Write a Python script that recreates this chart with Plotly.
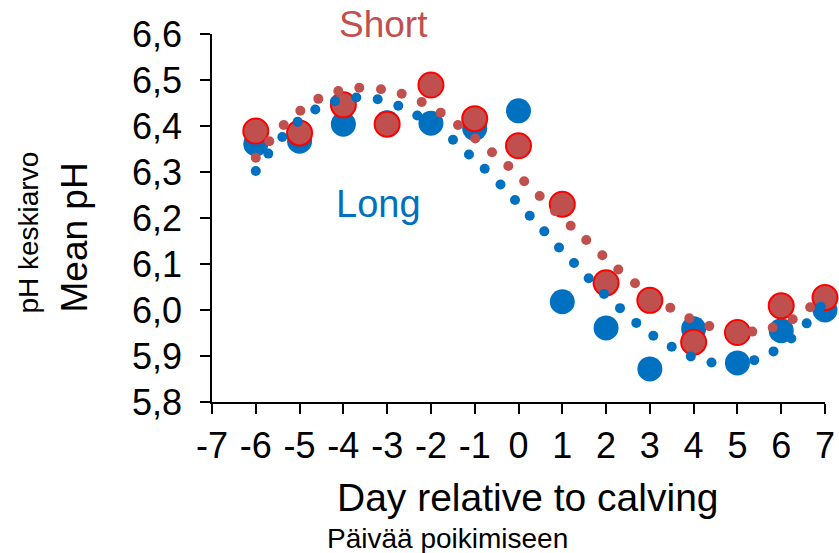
import plotly.graph_objects as go

# Daily mean rumen pH around calving, two groups
days = [-6, -5, -4, -3, -2, -1, 0, 1, 2, 3, 4, 5, 6, 7]
long_ph = [6.361, 6.367, 6.404, 6.407, 6.406, 6.395, 6.433,
           6.018, 5.961, 5.872, 5.959, 5.885, 5.955, 6.000]
short_ph = [6.389, 6.385, 6.446, 6.404, 6.489, 6.416, 6.357,
            6.230, 6.059, 6.021, 5.930, 5.951, 6.009, 6.027]

# Dotted trend curves (one dot per position along each curve)
long_curve_day = [-6.00, -5.714, -5.394, -5.043, -4.641, -4.191, -3.704, -3.216,
                  -2.745, -2.311, -1.907, -1.496, -1.131, -0.772, -0.411, -0.080,
                  0.256, 0.589, 0.925, 1.268, 1.603, 1.953, 2.318, 2.690, 3.079,
                  3.499, 3.935, 4.408, 4.887, 5.383, 5.824, 6.230, 6.582, 6.902]
long_curve_ph = [6.302, 6.340, 6.376, 6.409, 6.436, 6.454, 6.462, 6.458,
                 6.444, 6.423, 6.398, 6.370, 6.338, 6.307, 6.273, 6.239,
                 6.205, 6.171, 6.136, 6.102, 6.069, 6.035, 6.004, 5.972, 5.944,
                 5.920, 5.899, 5.886, 5.883, 5.891, 5.910, 5.938, 5.971, 6.007]
short_curve_day = [-6.00, -5.691, -5.362, -4.983, -4.572, -4.115, -3.636, -3.140,
                   -2.668, -2.211, -1.777, -1.382, -0.987, -0.605, -0.233, 0.130,
                   0.484, 0.834, 1.192, 1.548, 1.914, 2.279, 2.661, 3.060, 3.467,
                   3.901, 4.358, 4.846, 5.340, 5.806, 6.262, 6.662, 7.0]
short_curve_ph = [6.331, 6.367, 6.402, 6.433, 6.459, 6.476, 6.483, 6.480,
                  6.470, 6.452, 6.429, 6.402, 6.373, 6.343, 6.313, 6.280,
                  6.248, 6.215, 6.183, 6.152, 6.119, 6.088, 6.058, 6.029, 6.005,
                  5.982, 5.965, 5.955, 5.953, 5.962, 5.980, 6.006, 6.037]

x_ticks = [-7, -6, -5, -4, -3, -2, -1, 0, 1, 2, 3, 4, 5, 6, 7]
x_tick_labels = ["-7", "-6", "-5", "-4", "-3", "-2", "-1", "0",
                 "1", "2", "3", "4", "5", "6", "7"]
y_ticks = [5.8, 5.9, 6.0, 6.1, 6.2, 6.3, 6.4, 6.5, 6.6]
y_tick_labels = ["5,8", "5,9", "6,0", "6,1", "6,2", "6,3", "6,4", "6,5", "6,6"]

BLUE = "#0070C0"
RED_FILL = "#C0504D"
RED_EDGE = "#FF0000"
FONT = "Liberation Sans, Arial, sans-serif"

fig = go.Figure()

fig.add_trace(go.Scatter(
    x=days, y=long_ph, mode="markers", cliponaxis=False,
    marker=dict(size=25, color=BLUE, line=dict(width=0)),
))
fig.add_trace(go.Scatter(
    x=days, y=short_ph, mode="markers", cliponaxis=False,
    marker=dict(size=25, color=RED_FILL, line=dict(width=2, color=RED_EDGE)),
))
fig.add_trace(go.Scatter(
    x=short_curve_day, y=short_curve_ph, mode="markers", cliponaxis=False,
    marker=dict(size=10, color=RED_FILL, line=dict(width=0)),
))
fig.add_trace(go.Scatter(
    x=long_curve_day, y=long_curve_ph, mode="markers", cliponaxis=False,
    marker=dict(size=10, color=BLUE, line=dict(width=0)),
))

axis_common = dict(
    showgrid=False, zeroline=False, showline=True, linecolor="black",
    linewidth=1.5, ticks="outside", ticklen=10, tickwidth=1.5,
    tickcolor="black", tickfont=dict(family=FONT, size=36, color="black"),
    automargin=False,
)

fig.update_xaxes(range=[-7, 7], tickvals=x_ticks, ticktext=x_tick_labels,
                 ticklabelstandoff=1, **axis_common)
fig.update_yaxes(range=[5.8, 6.6], tickvals=y_ticks, ticktext=y_tick_labels,
                 ticklabelstandoff=11, **axis_common)

annotations = [
    dict(text="Short", x=0.2799, y=1.027, xref="paper", yref="paper",
         font=dict(family=FONT, size=37, color=RED_FILL)),
    dict(text="Long", x=-3.19, y=6.230, xref="x", yref="y",
         font=dict(family=FONT, size=38, color=BLUE)),
    dict(text="Day relative to calving", x=0.5155, y=-0.2595,
         xref="paper", yref="paper",
         font=dict(family=FONT, size=39, color="black")),
    dict(text="Päivää poikimiseen", x=0.384, y=-0.3696,
         xref="paper", yref="paper",
         font=dict(family=FONT, size=28, color="black")),
    dict(text="Mean pH", x=-0.2235, y=0.447, xref="paper", yref="paper",
         textangle=-90, font=dict(family=FONT, size=37, color="black")),
    dict(text="pH keskiarvo", x=-0.2993, y=0.459, xref="paper", yref="paper",
         textangle=-90, font=dict(family=FONT, size=28, color="black")),
]
for a in annotations:
    a.update(showarrow=False, xanchor="center", yanchor="middle")

fig.update_layout(
    width=839, height=553,
    margin=dict(l=212, r=14, t=34, b=151),
    paper_bgcolor="white", plot_bgcolor="white",
    showlegend=False,
    annotations=annotations,
)

fig.write_html("out.html")
